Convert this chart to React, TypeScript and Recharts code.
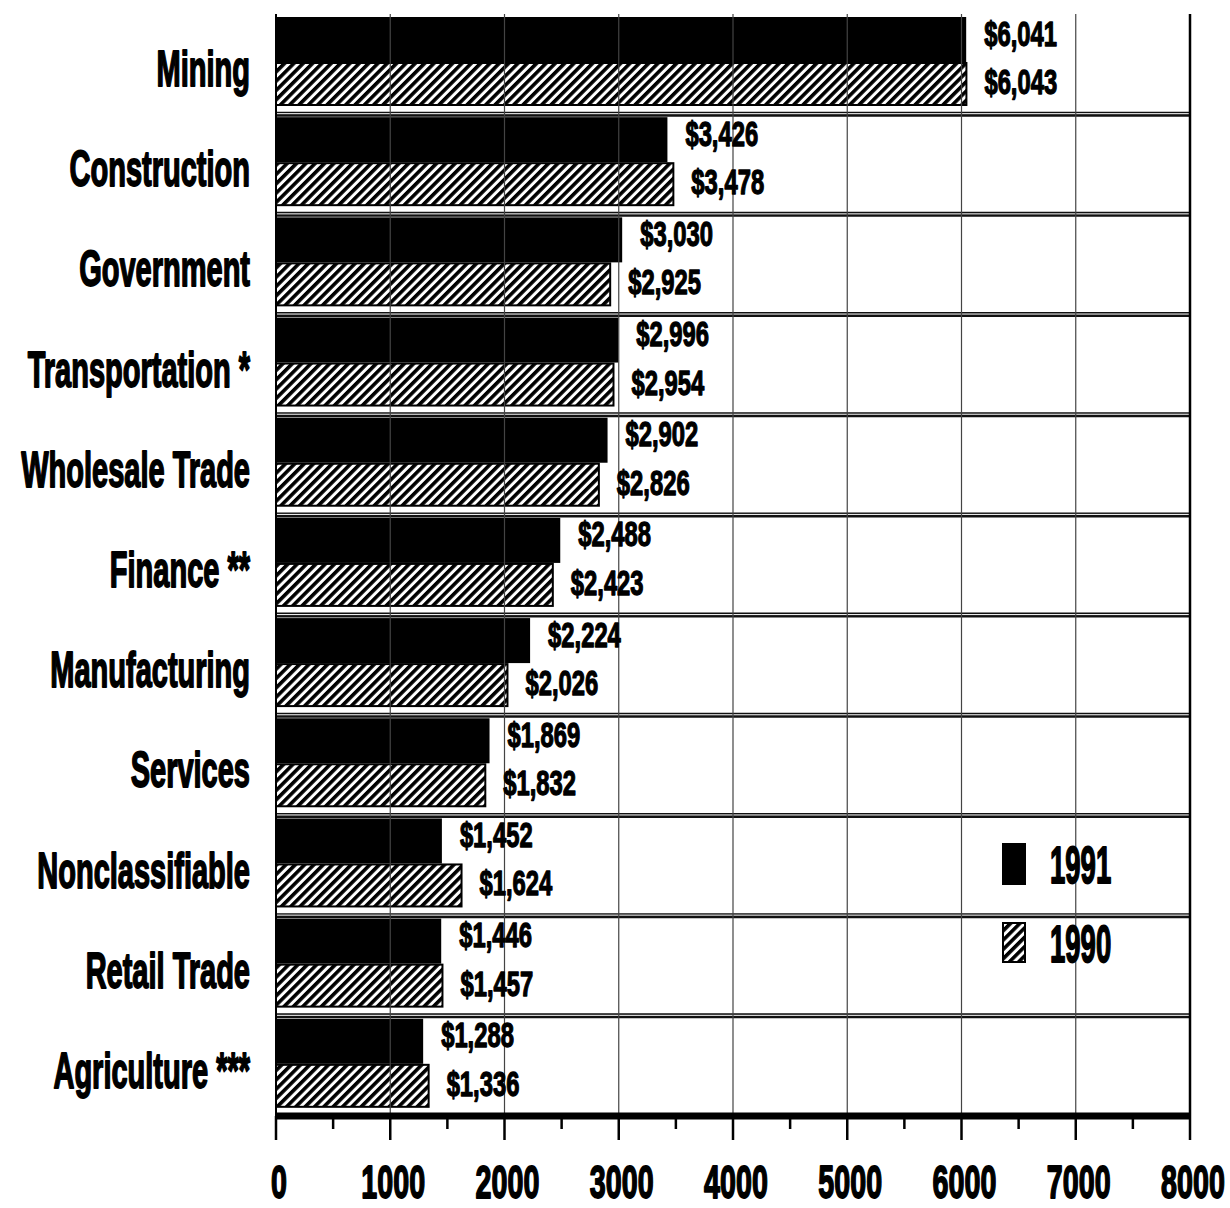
import React from 'react';
import { BarChart, Bar, XAxis, YAxis, CartesianGrid, ReferenceLine, LabelList, Legend } from 'recharts';

const categories = ['Mining', 'Construction', 'Government', 'Transportation *', 'Wholesale Trade', 'Finance **', 'Manufacturing', 'Services', 'Nonclassifiable', 'Retail Trade', 'Agriculture ***'];
const values1991 = [6041, 3426, 3030, 2996, 2902, 2488, 2224, 1869, 1452, 1446, 1288];
const values1990 = [6043, 3478, 2925, 2954, 2826, 2423, 2026, 1832, 1624, 1457, 1336];
const seriesNames = ['1991', '1990'];
const majorTicks = [0, 1000, 2000, 3000, 4000, 5000, 6000, 7000, 8000];
const allTicks = [0, 500, 1000, 1500, 2000, 2500, 3000, 3500, 4000, 4500, 5000, 5500, 6000, 6500, 7000, 7500, 8000];
const gridValues = [1000, 2000, 3000, 4000, 5000, 6000, 7000];

const data = categories.map((name, i) => ({ name, v1991: values1991[i], v1990: values1990[i] }));

const FONT = "'Liberation Sans', Arial, Helvetica, sans-serif";

function CText({ x, y, size, sx, anchor, sw = 1.4, children }: any) {
  return (
    <text
      transform={`translate(${x},${y}) scale(${sx},1)`}
      fontFamily={FONT}
      fontWeight={700}
      fontSize={size}
      textAnchor={anchor}
      fill="#000"
      stroke="#000"
      strokeWidth={sw}
      strokeLinejoin="round"
    >
      {children}
    </text>
  );
}

const YTick = (props: any) => {
  const { x, y, payload } = props;
  return (
    <CText x={Number(x) - 26} y={Number(y) + 22} size={50} sx={0.58} anchor="end" sw={1.8}>
      {payload.value}
    </CText>
  );
};

const XTick = (props: any) => {
  const { x, y, payload } = props;
  const major = majorTicks.includes(payload.value);
  const xx = Number(x);
  const yy = Number(y);
  return (
    <g>
      <line x1={xx} x2={xx} y1={yy} y2={yy + (major ? 24 : 13)} stroke="#000" strokeWidth={2.5} />
      {major && (
        <CText x={xx + 3} y={yy + 82} size={47} sx={0.61} anchor="middle" sw={1.8}>
          {String(payload.value)}
        </CText>
      )}
    </g>
  );
};

const fmt = (v: number) => '$' + v.toLocaleString('en-US');

const BlackLabel = (props: any) => {
  const x = Number(props.x), y = Number(props.y), w = Number(props.width), h = Number(props.height);
  return (
    <CText x={x + w + 18} y={y + h / 2 + 4.5} size={35} sx={0.68} anchor="start" sw={1.3}>
      {fmt(Number(props.value))}
    </CText>
  );
};

const HatchLabel = (props: any) => {
  const x = Number(props.x), y = Number(props.y), w = Number(props.width), h = Number(props.height);
  return (
    <CText x={x + w + 18} y={y + h / 2 + 7} size={35} sx={0.68} anchor="start" sw={1.3}>
      {fmt(Number(props.value))}
    </CText>
  );
};

const BlackShape = (props: any) => {
  const { x, y, width, height } = props;
  return <rect x={x} y={Number(y) - 3} width={width} height={Number(height) + 3} fill="#000" />;
};

const HatchShape = (props: any) => {
  const { x, y, width, height } = props;
  return (
    <rect x={x} y={Number(y) - 3} width={width} height={height} fill="url(#hatch90)" stroke="#000" strokeWidth={2} />
  );
};

const LegendContent = (props: any) => {
  const payload = props.payload || [];
  const find = (key: string, fallback: string) => {
    const p = payload.find((e: any) => e.dataKey === key);
    return p ? p.value : fallback;
  };
  const n1 = find('v1991', seriesNames[0]);
  const n0 = find('v1990', seriesNames[1]);
  return (
    <svg width={140} height={135}>
      <rect x={2} y={5} width={24} height={42} fill="#000" />
      <CText x={50} y={45} size={51} sx={0.54} anchor="start" sw={1.8}>{n1}</CText>
      <rect x={3} y={85} width={22} height={39} fill="url(#hatch90)" stroke="#000" strokeWidth={2} />
      <CText x={50} y={124} size={51} sx={0.54} anchor="start" sw={1.8}>{n0}</CText>
    </svg>
  );
};

export default function App() {
  const n = categories.length;
  const gen = (shift: number) => ({ offset }: any) => {
    const top = offset && offset.top != null ? offset.top : 14;
    const h = offset && offset.height != null ? offset.height : 1102;
    return categories.slice(1).map((_, i) => top + ((i + 1) * h) / n + shift);
  };
  return (
    <div style={{ position: 'absolute', left: 0, top: 0, width: 1230, height: 1208, background: '#fff' }}>
      <BarChart
        width={1230}
        height={1208}
        data={data}
        layout="vertical"
        margin={{ top: 14, right: 40, left: 0, bottom: 0 }}
        barSize={42}
        barGap={4}
      >
        <defs>
          <pattern id="hatch90" patternUnits="userSpaceOnUse" width={6.6} height={6.6} patternTransform="rotate(45)">
            <rect x={0} y={0} width={6.6} height={6.6} fill="#fff" />
            <rect x={0} y={0} width={3.6} height={6.6} fill="#000" />
          </pattern>
        </defs>
        <CartesianGrid vertical={false} stroke="#111" strokeWidth={5} horizontalCoordinatesGenerator={gen(0)} />
        <CartesianGrid vertical={false} stroke="#fff" strokeWidth={1} horizontalCoordinatesGenerator={gen(-0.5)} />
        <XAxis
          type="number"
          domain={[0, 8000]}
          ticks={allTicks}
          interval={0}
          height={92}
          tickSize={0}
          tickMargin={0}
          tick={<XTick />}
          axisLine={{ stroke: '#000', strokeWidth: 7 }}
          tickLine={false}
        />
        <XAxis
          xAxisId="top"
          orientation="top"
          type="number"
          domain={[0, 8000]}
          height={0}
          tick={false}
          tickLine={false}
          axisLine={{ stroke: '#000', strokeWidth: 5 }}
        />
        <YAxis
          type="category"
          dataKey="name"
          width={276}
          interval={0}
          tickSize={0}
          tickMargin={0}
          tick={<YTick />}
          tickLine={false}
          axisLine={{ stroke: '#000', strokeWidth: 2 }}
        />
        {gridValues.map((v) => (
          <ReferenceLine key={v} x={v} stroke="#444" strokeWidth={1.2} />
        ))}
        <ReferenceLine x={8000} stroke="#000" strokeWidth={2.5} />
        <Legend
          layout="vertical"
          align="center"
          verticalAlign="middle"
          content={<LegendContent />}
          wrapperStyle={{ position: 'absolute', left: 1000, top: 838, width: 140, height: 135 }}
        />
        <Bar dataKey="v1991" name={seriesNames[0]} fill="#000" shape={<BlackShape />} isAnimationActive={false}>
          <LabelList dataKey="v1991" content={<BlackLabel />} />
        </Bar>
        <Bar dataKey="v1990" name={seriesNames[1]} fill="url(#hatch90)" shape={<HatchShape />} isAnimationActive={false}>
          <LabelList dataKey="v1990" content={<HatchLabel />} />
        </Bar>
      </BarChart>
    </div>
  );
}
